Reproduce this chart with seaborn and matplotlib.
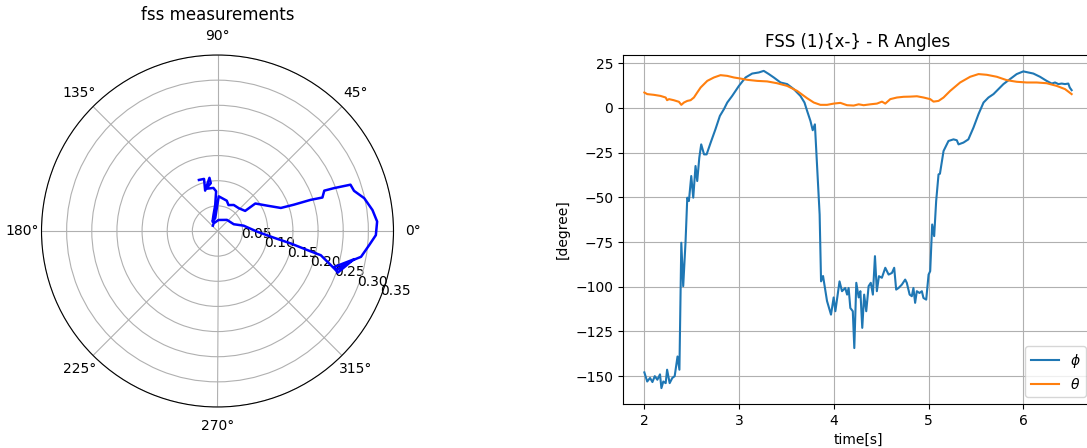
import numpy as np
import pandas as pd
import matplotlib
matplotlib.use("Agg")
import matplotlib.pyplot as plt
import seaborn as sns

# ---- polar trajectory (angle in degrees, radius) ----
polar_angle_deg = [110, 104.5, 107, 98.6, 98, 105, 95.4, 92, 95, 104, 118, 100, 88, 73, 67,
                   58, 47, 36, 36, 27, 20, 19, 18.5, 17.7, 20.7, 20.2, 19.2, 16.4, 12.6, 7.7,
                   3.4, -1.5, -5.3, -10.2, -12.2, -19.1, -17.1, -11.6, -18.3, -13.2, -12, -9.6,
                   -6.8, -1, 11.6, 22.6, 49.7, 85, 117, 131]
polar_r = [0.108, 0.107, 0.084, 0.107, 0.096, 0.087, 0.086, 0.079, 0.052, 0.033, 0.021, 0.026,
           0.069, 0.063, 0.056, 0.061, 0.062, 0.068, 0.093, 0.111, 0.134, 0.161, 0.195, 0.219,
           0.227, 0.247, 0.280, 0.283, 0.299, 0.311, 0.318, 0.315, 0.303, 0.290, 0.275, 0.253,
           0.243, 0.278, 0.248, 0.211, 0.183, 0.147, 0.113, 0.079, 0.053, 0.035, 0.029, 0.022,
           0.017, 0.014]
polar_rticks = [0.05, 0.10, 0.15, 0.20, 0.25, 0.30, 0.35]

# ---- time series ----
phi_t = [2.0, 2.03, 2.06, 2.085, 2.11, 2.137, 2.165, 2.18, 2.2, 2.225, 2.24, 2.267, 2.295, 2.32,
         2.35, 2.37, 2.39, 2.41, 2.435, 2.453, 2.47, 2.495, 2.516, 2.54, 2.558, 2.58, 2.6, 2.63,
         2.657, 2.7, 2.75, 2.797, 2.84, 2.875, 2.927, 2.998, 3.068, 3.138, 3.208, 3.26, 3.314,
         3.366, 3.437, 3.507, 3.577, 3.647, 3.69, 3.718, 3.753, 3.777, 3.8, 3.822, 3.85, 3.865,
         3.886, 3.928, 3.97, 3.998, 4.016, 4.06, 4.086, 4.12, 4.14, 4.156, 4.174, 4.2, 4.216,
         4.237, 4.262, 4.28, 4.3, 4.32, 4.342, 4.367, 4.39, 4.412, 4.434, 4.454, 4.476, 4.507,
         4.543, 4.578, 4.613, 4.637, 4.658, 4.683, 4.718, 4.753, 4.77, 4.8, 4.823, 4.84, 4.858,
         4.876, 4.904, 4.929, 4.946, 4.975, 5.0, 5.017, 5.038, 5.059, 5.08, 5.105, 5.12, 5.158,
         5.21, 5.263, 5.298, 5.316, 5.368, 5.42, 5.474, 5.527, 5.58, 5.632, 5.685, 5.737, 5.79,
         5.86, 5.93, 6.0, 6.053, 6.106, 6.176, 6.246, 6.3, 6.335, 6.37, 6.405, 6.44, 6.475,
         6.49, 6.51]
phi_deg = [-147.9, -153, -151, -153.3, -150, -152, -149, -156.7, -153, -153.9, -146.4, -153.9,
           -151, -150, -139, -146.4, -75.4, -99.7, -74.5, -50.2, -52.1, -38.1, -50.2, -32.5,
           -40.9, -27.8, -20.4, -26, -26, -19.4, -12, -4.5, -0.7, 3, 6.7, 12.3, 17, 19.2, 19.8,
           20.7, 18.9, 17, 14.2, 13.3, 10.5, 6.7, 3, -1.7, -7.3, -12.5, -9.2, -31.6, -59.6, -97,
           -94, -108, -115.6, -106, -113.7, -97, -102.5, -100.7, -104.4, -100.7, -111.9, -113.7,
           -134.3, -97.8, -106, -102.5, -123, -104.4, -113.7, -99.7, -97.8, -104.4, -82.9,
           -102.5, -94.1, -95, -89.4, -93.2, -92.3, -89.4, -101.6, -100.7, -98.8, -96, -97.8,
           -104.4, -105.3, -100.7, -109, -102.5, -103.5, -102.5, -106.3, -107.2, -93.2, -91.3,
           -65.2, -71.7, -52.1, -37.2, -36.8, -24.1, -18.5, -17.6, -18.1, -20.4, -19.4, -17.6,
           -11, -3.5, 3, 5.8, 7.7, 10.5, 13.3, 16.1, 18.9, 20.4, 19.8, 19.2, 17.4, 15.1, 13.6,
           14.2, 13.3, 13.6, 13.3, 13.6, 11.4, 9.9]

theta_t = [2.0, 2.03, 2.1, 2.17, 2.225, 2.24, 2.26, 2.31, 2.365, 2.39, 2.418, 2.453, 2.488,
           2.523, 2.558, 2.594, 2.664, 2.734, 2.804, 2.875, 2.945, 3.015, 3.085, 3.19, 3.296,
           3.4, 3.507, 3.612, 3.718, 3.788, 3.858, 3.928, 3.999, 4.069, 4.139, 4.21, 4.262,
           4.315, 4.385, 4.455, 4.508, 4.543, 4.596, 4.666, 4.736, 4.806, 4.877, 4.947, 5.017,
           5.052, 5.105, 5.158, 5.228, 5.333, 5.439, 5.527, 5.614, 5.72, 5.825, 5.93, 6.036,
           6.141, 6.246, 6.352, 6.44, 6.51]
theta_deg = [8.6, 7.7, 7.3, 6.7, 5.8, 4.3, 4.9, 4.3, 3.4, 1.7, 3, 3.9, 4.3, 5.8, 8.6, 11.4,
             15.1, 17, 18.3, 17.9, 17, 16.4, 15.7, 15.1, 14.8, 13.8, 12.3, 9.5, 5.4, 3, 1.7, 1.7,
             2.4, 2.8, 1.5, 1.3, 2, 1.5, 2, 2.4, 3.5, 2.4, 4.9, 5.8, 6.2, 6.3, 6.5, 5.8, 4.9,
             3.5, 3.9, 5.8, 9.5, 14.2, 17.4, 18.9, 18.5, 17.4, 15.5, 14.6, 14.2, 14.2, 13.8,
             12.3, 10.5, 7.7]

series_labels = [r"$\phi$", r"$\theta$"]
title_polar = "fss measurements"
title_right = "FSS (1){x-} - R Angles"

fig = plt.figure(figsize=(10.87, 4.48), dpi=100)

# Polar subplot
axp = fig.add_axes([41.5 / 1087, (448 - 407) / 448, 352 / 1087, 352 / 448], projection="polar")
sns.lineplot(x=np.deg2rad(polar_angle_deg), y=polar_r, ax=axp, sort=False,
             color="b", linewidth=1.8, estimator=None)
axp.set_ylim(0, 0.35)
axp.set_rticks(polar_rticks)
axp.set_rlabel_position(-22.5)
axp.set_xlabel("")
axp.set_ylabel("")
axp.set_title(title_polar, fontsize=12)

# Time series subplot
axr = fig.add_axes([623 / 1087, (448 - 404) / 448, 470 / 1087, 349 / 448])
sns.lineplot(x=phi_t, y=phi_deg, ax=axr, color="#1f77b4", linewidth=1.5,
             label=series_labels[0], estimator=None)
sns.lineplot(x=theta_t, y=theta_deg, ax=axr, color="#ff7f0e", linewidth=1.5,
             label=series_labels[1], estimator=None)
axr.set_xlabel("time[s]")
axr.set_ylabel("[degree]")
axr.set_title(title_right, fontsize=12)
axr.grid(True)
axr.legend(loc="lower right")

fig.savefig("out.png", dpi=100)
